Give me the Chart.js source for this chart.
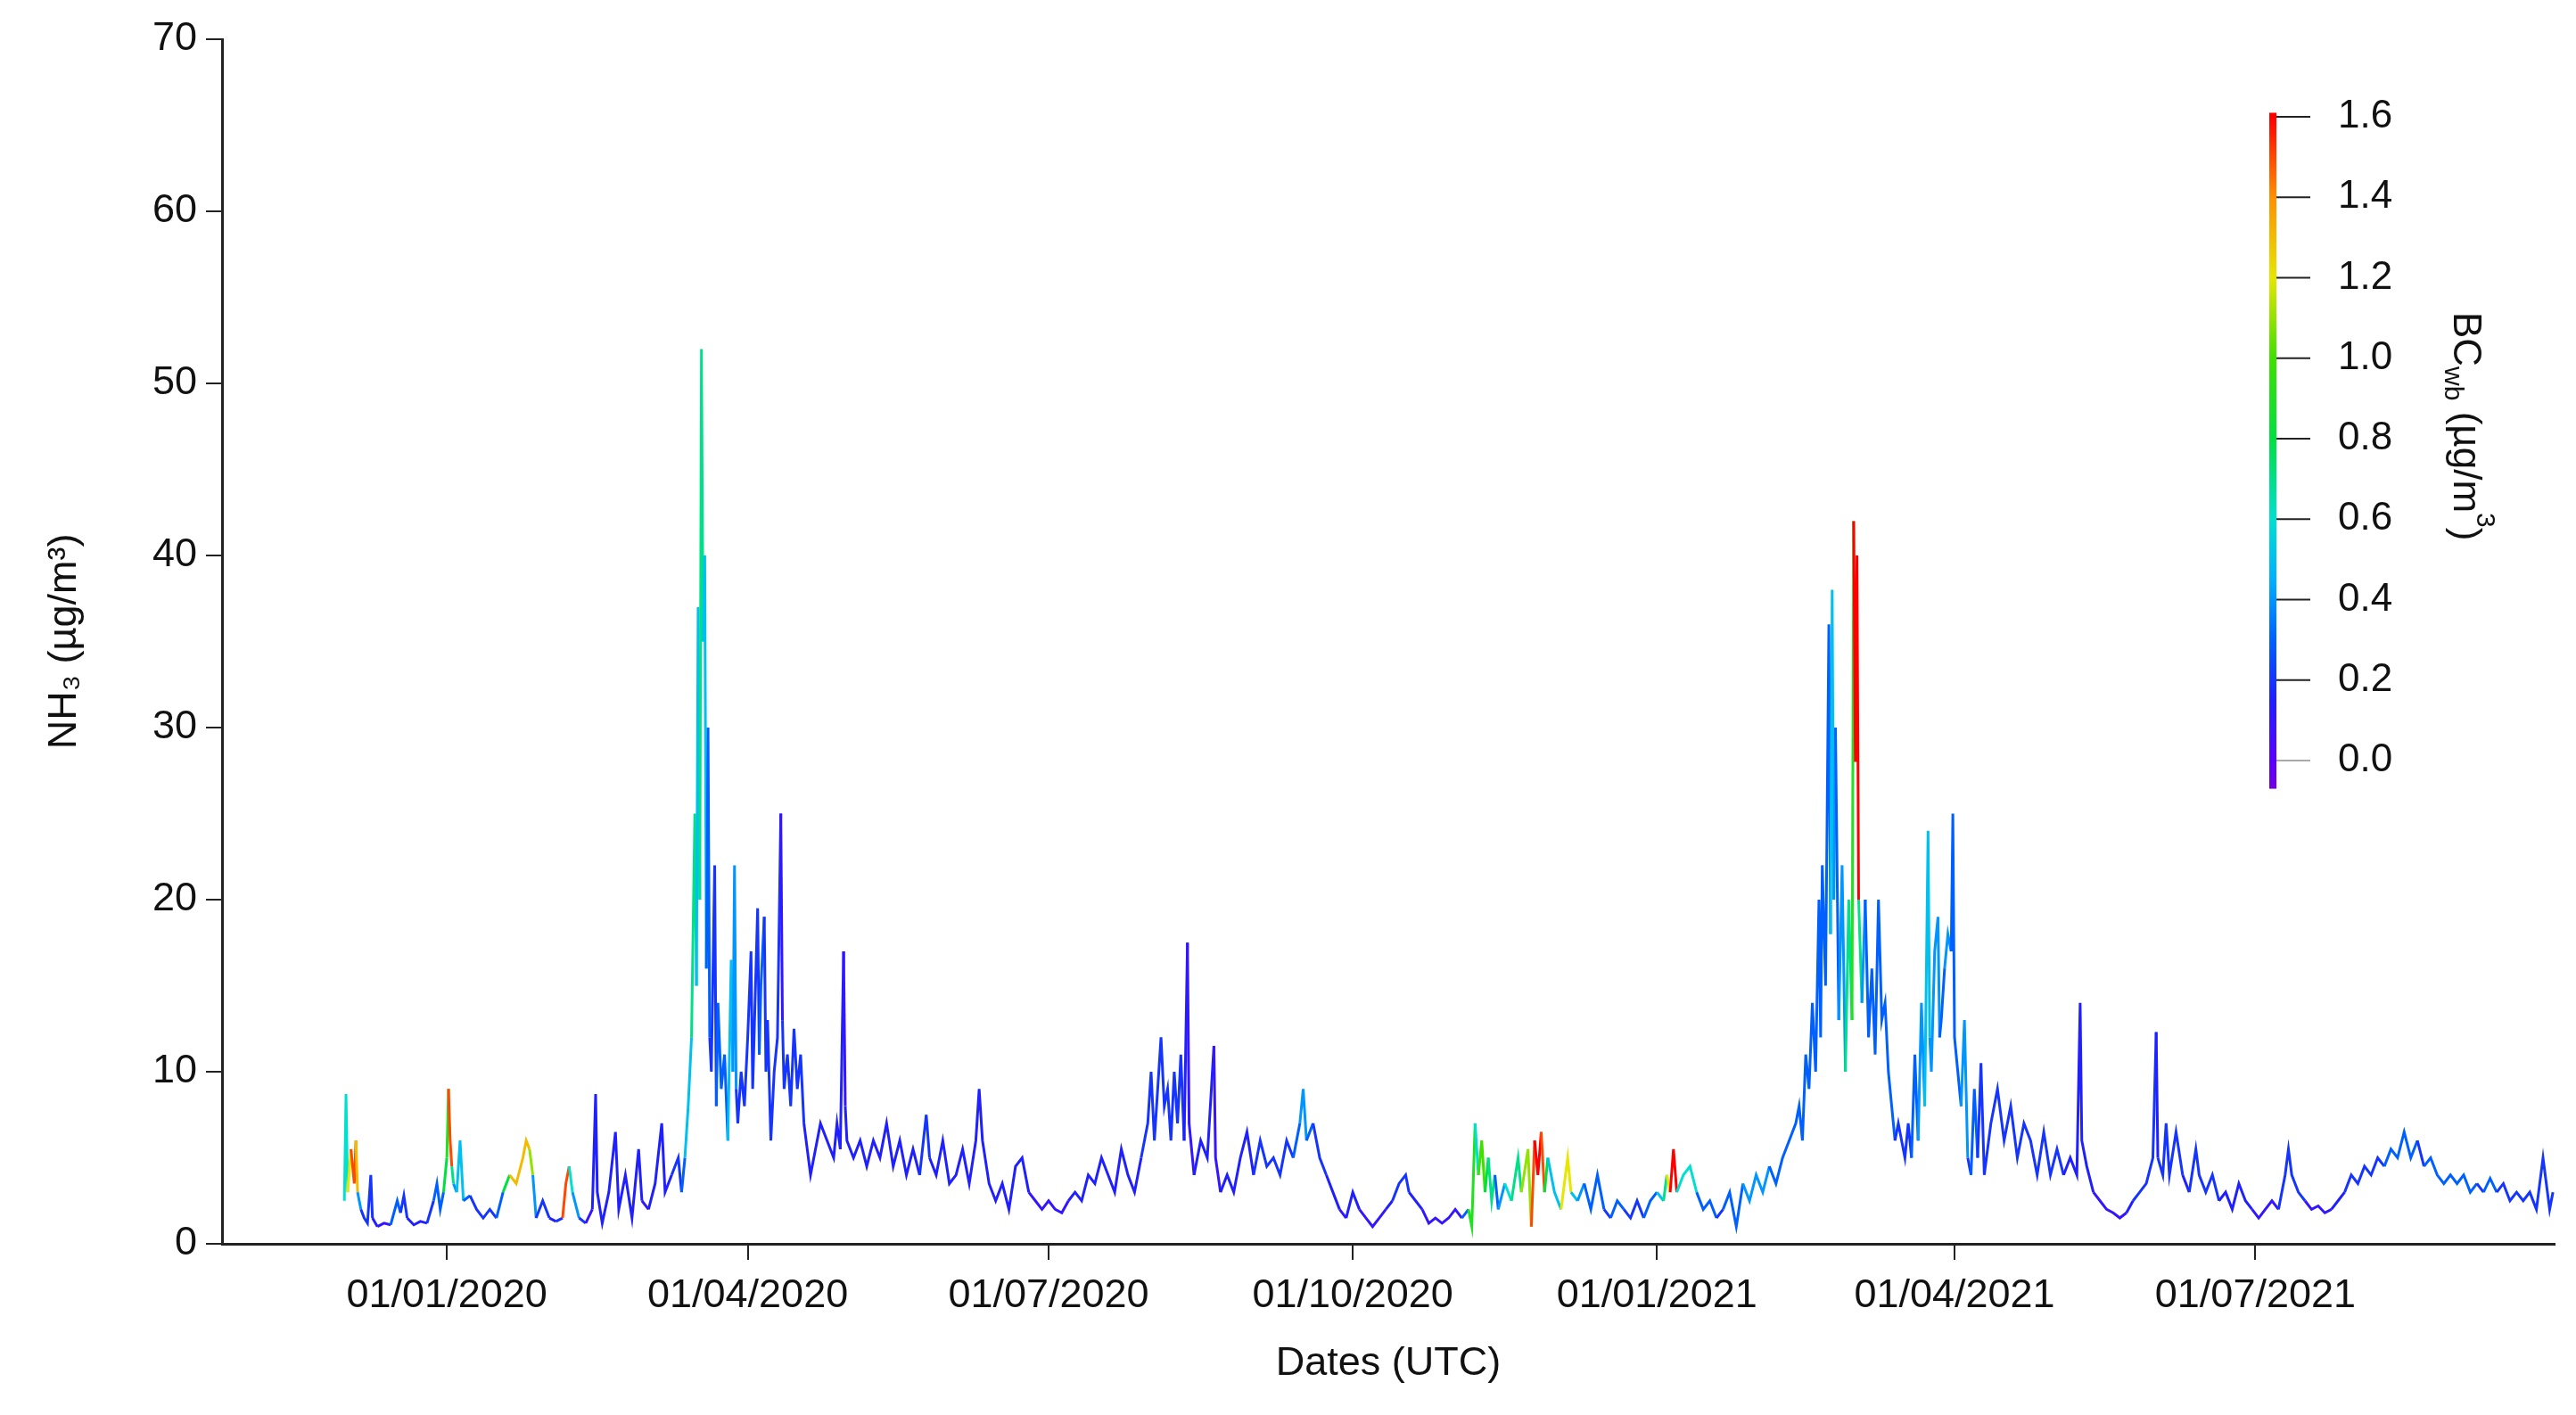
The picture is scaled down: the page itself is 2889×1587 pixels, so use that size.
<!DOCTYPE html>
<html>
<head>
<meta charset="utf-8">
<script src="https://cdn.jsdelivr.net/npm/chart.js@4"></script>
<style>
  html, body { margin: 0; padding: 0; background: #fff; }
</style>
</head>
<body>
<canvas id="nh3Chart" width="2889" height="1587"></canvas>
<script>
// days since 01/01/2020, NH3 (µg/m3), BCwb (µg/m3)
const days = [
  -31,-30.5,-30,-29,-28,-27.5,-27,-26,-25,-24,-23,-22.5,-21,-19,-17,-15,-14,-13,-12,-10,-8,-6,-4,-3,-2,-1,
  0,0.5,1,1.5,2,3,4,5,7,9,11,13,15,17,19,21,23,24,25,26,27,29,31,33,35,36,37,38,40,42,44,45,45.5,47,49,51,52,54,56,58,59,61,63,65,66,68,70,71,72,73,
  74,75,75.5,76,76.5,77,77.5,78,78.5,79,79.5,80,81,81.5,82,83,84,85,86,86.5,87,87.5,88,89,90,91,92,92.5,94,94.5,95,96,96.5,97,98,99,100,101,101.5,102,103,104,105,106,107,108,109,110,111,113,115,117,118,119,120,120.5,121,123,125,127,129,131,133,135,137,139,141,143,145,146,148,150,152,154,156,158,160,161,162,
  164,166,168,170,172,174,176,178,180,182,184,186,188,190,192,194,196,198,200,202,204,206,208,210,212,213,214,216,217,218,219,220,221,222,223,224,224.5,226,228,230,232,232.5,234,236,238,240,242,244,246,248,250,252,254,256,258,259,260,262,264,266,268,270,272,274,276,278,280,282,284,286,288,290,291,293,295,297,299,301,303,305,307,
  309,310,311,312,313,314,315,316,317,318,320,322,324,325,327,328,329,330,331,332,333,335,337,339,340,342,344,346,348,350,352,354,356,358,360,362,364,366,368,369,370,371,372,374,376,378,380,382,384,386,388,390,392,394,396,398,400,402,404,406,408,409,410,
  411,412,413,414,415,415.5,416,417,418,418.5,419,419.5,420,421,422,423,424,425,425.5,426,426.5,427,428,429,430,431,432,433,434,435,436,437,438,439,441,442,443,444,445,446,447,448,448.5,449,450,451,451.5,452,453,454,455,455.5,456,457,458,459,460,461,462,463,464,465,467,469,471,473,475,477,479,481,483,485,487,489,491,493,494,494.5,496,498,
  500,502,504,506,508,510,512,514,516,517,517.5,519,520,521,523,525,527,529,530,532,534,536,538,540,542,544,546,548,550,552,554,556,557,558,560,562,564,566,568,570,572,574,576,578,580,582,584,586,588,590,592,594,596,598,600,602,604,606,608,610,612,614,616,618,620,622,624,626,628,630,632,634,636,637
];
const nh3 = [
  2.5,8.7,3,5.5,3.5,6,3,2,1.5,1.2,4,1.5,1,1.2,1.1,2.5,1.8,2.8,1.5,1.1,1.3,1.2,2.5,3.5,2,3,
  5,9,6,4.5,3.5,3,6,2.5,2.8,2,1.5,2,1.5,3,4,3.5,5,6,5.5,4,1.5,2.5,1.5,1.3,1.5,3.5,4.5,3,1.5,1.2,2,8.7,3,1.2,3,6.5,2,4,1.5,5.5,2.5,2,3.5,7,3,4,5,3,5,8,
  12,25,15,37,20,52,35,40,16,30,12,10,22,8,14,9,11,6,16.5,10,22,9,7,10,8,12,17,9,19.5,11,15,19,10,13,6,10,12,25,13,9,11,8,12.5,9,11,7,5.5,4,5,7,6,5,7,5.5,17,8,6,5,6,4.5,6,5,7,4.5,6,4,5.5,4,7.5,5,4,6,3.5,4,5.5,3.5,6,9,6,
  3.5,2.5,3.5,2,4.5,5,3,2.5,2,2.5,2,1.8,2.5,3,2.5,4,3.5,5,4,3,5.5,4,3,5,7,10,6,12,8,9,6,10,7,11,6,17.5,7,4,6,5,11.5,5,3,4,3,5,6.5,4,6,4.5,5,4,6,5,7,9,6,7,5,4,3,2,1.5,3,2,1.5,1,1.5,2,2.5,3.5,4,3,2.5,2,1.2,1.5,1.2,1.5,2,1.5,
  2,1,7,4,6,3,5,2.5,4,2,3.5,2.5,5,3,5.5,1,6,4,6.5,3,5,3,2,5,3,2.5,3.5,2,4,2,1.5,2.5,2,1.5,2.5,1.5,2.5,3,2.5,4,3,5.5,3,4,4.5,3,2,2.5,1.5,2,3,1,3.5,2.5,4,3,4.5,3.5,5,6,7,8,6,
  11,9,14,10,20,12,22,15,36,18,38,20,30,13,22,10,20,13,42,28,40,20,14,20,12,16,11,20,13,14,10,8,6,7,5,7,5,11,6,14,8,24,12,10,17,19,12,13,16,18,17,25,12,10,8,13,5,4,9,5,10.5,4,7,9,6,8,5,7,6,4,6.5,4,5.5,4,5,4,14,6,4.5,3,
  2.5,2,1.8,1.5,1.8,2.5,3,3.5,5,12.3,5,4,7,4,6.5,4,3,5.5,4,3,4,2.5,3,2,3.5,2.5,2,1.5,2,2.5,2,4,5.5,4,3,2.5,2,2.2,1.8,2,2.5,3,4,3.5,4.5,4,5,4.5,5.5,5,6.5,5,6,4.5,5,4,3.5,4,3.5,4,3,3.5,3,3.8,3,3.5,2.5,3,2.5,3,2,5,2,3
];
const bc = [
  .3,.6,.5,1.2,1.5,1.3,.4,.2,.2,.15,.2,.15,.1,.1,.1,.3,.2,.2,.15,.1,.15,.1,.2,.3,.2,.3,
  .8,.9,1.5,.7,.4,.3,.5,.3,.2,.2,.15,.2,.2,.3,.8,1.3,1,1.3,1.1,.4,.2,.2,.15,.15,.2,1.5,.6,.4,.2,.1,.1,.15,.15,.1,.15,.15,.15,.15,.1,.15,.1,.1,.15,.15,.15,.15,.2,.15,.3,.5,
  .4,.7,.5,.5,.4,.7,.5,.5,.3,.3,.2,.2,.2,.2,.3,.2,.3,.2,.5,.3,.4,.2,.2,.2,.2,.2,.2,.2,.2,.2,.3,.2,.2,.2,.15,.2,.2,.1,.1,.2,.2,.2,.2,.2,.2,.15,.15,.1,.15,.15,.15,.1,.15,.15,.1,.1,.15,.15,.15,.15,.15,.15,.15,.15,.15,.1,.15,.15,.2,.15,.15,.15,.1,.15,.15,.15,.15,.15,.15,
  .15,.1,.15,.1,.15,.15,.1,.1,.1,.1,.1,.1,.1,.15,.1,.15,.15,.15,.15,.1,.15,.15,.1,.15,.2,.2,.2,.2,.2,.2,.2,.2,.2,.2,.15,.1,.1,.1,.15,.15,.1,.1,.1,.15,.1,.15,.15,.15,.2,.15,.2,.15,.2,.2,.3,.4,.3,.2,.2,.15,.15,.1,.1,.15,.1,.1,.1,.1,.1,.15,.2,.2,.15,.15,.1,.1,.1,.1,.1,.1,.1,
  .3,.9,.5,.6,1,.8,.5,.7,.3,.3,.4,.6,.7,.5,1.1,.9,1.5,1.6,1.5,.8,.4,.5,.3,1.2,.5,.4,.3,.3,.3,.2,.2,.3,.2,.15,.2,.15,.3,.3,.5,.7,1.2,1.6,.6,.4,.6,.3,.2,.3,.2,.2,.3,.2,.3,.4,.4,.4,.3,.3,.3,.3,.3,.3,.3,
  .3,.3,.3,.3,.3,.3,.3,.3,.3,.3,.5,.4,.3,.3,.4,.3,.7,.4,.9,1.6,1.6,.7,.4,.3,.3,.3,.3,.3,.3,.3,.3,.3,.2,.2,.2,.2,.2,.3,.2,.4,.3,.5,.4,.4,.4,.4,.3,.3,.3,.4,.3,.15,.3,.3,.2,.4,.2,.2,.3,.2,.2,.2,.2,.2,.2,.2,.2,.2,.2,.2,.2,.2,.2,.15,.15,.15,.1,.15,.15,.1,
  .1,.1,.1,.1,.1,.15,.2,.2,.2,.1,.15,.2,.2,.15,.2,.15,.15,.2,.2,.15,.2,.15,.15,.1,.15,.15,.1,.1,.1,.1,.1,.2,.2,.2,.2,.1,.1,.1,.1,.1,.15,.15,.2,.15,.2,.2,.2,.2,.3,.3,.2,.3,.2,.2,.3,.3,.2,.3,.3,.2,.3,.2,.2,.3,.2,.2,.2,.2,.2,.2,.2,.15,.2,.2
];
const tickDays = [0, 91, 182, 274, 366, 456, 547];
const tickLabels = ["01/01/2020", "01/04/2020", "01/07/2020", "01/10/2020", "01/01/2021", "01/04/2021", "01/07/2021"];
const bcTicks = [0, 0.2, 0.4, 0.6, 0.8, 1.0, 1.2, 1.4, 1.6];

const colorStops = [
  [-0.1, [127, 0, 212]], [0, [90, 0, 255]], [0.15, [32, 32, 255]], [0.3, [0, 96, 255]],
  [0.45, [0, 176, 255]], [0.6, [0, 224, 208]], [0.8, [0, 224, 64]], [1.0, [64, 224, 0]],
  [1.2, [230, 230, 0]], [1.4, [255, 144, 0]], [1.6, [255, 0, 0]]
];
function bcColor(v) {
  if (v <= colorStops[0][0]) return "rgb(" + colorStops[0][1].join(",") + ")";
  for (let i = 1; i < colorStops.length; i++) {
    const [v1, c1] = colorStops[i];
    const [v0, c0] = colorStops[i - 1];
    if (v <= v1) {
      const t = (v - v0) / (v1 - v0);
      return "rgb(" + c0.map((c, k) => Math.round(c + (c1[k] - c) * t)).join(",") + ")";
    }
  }
  return "rgb(255,0,0)";
}

const font = "Arial, 'Liberation Sans', sans-serif";

// colour bar + its label
const colorBarPlugin = {
  id: "colorBar",
  afterDraw(chart) {
    const ctx = chart.ctx;
    const x0 = 2545, w = 8;
    const yOf = v => 853 - (v / 1.6) * (853 - 131);
    const top = yOf(1.61), bottom = yOf(-0.07);
    const grad = ctx.createLinearGradient(0, bottom, 0, top);
    colorStops.forEach(([v, c]) => {
      const t = (v - (-0.07)) / (1.61 + 0.07);
      if (t >= 0 && t <= 1) grad.addColorStop(t, "rgb(" + c.join(",") + ")");
    });
    grad.addColorStop(0, bcColor(-0.07));
    grad.addColorStop(1, bcColor(1.61));
    ctx.save();
    ctx.fillStyle = grad;
    ctx.fillRect(x0, top, w, bottom - top);
    ctx.lineWidth = 2;
    ctx.fillStyle = "#111";
    ctx.font = "44px " + font;
    ctx.textAlign = "left";
    ctx.textBaseline = "middle";
    bcTicks.forEach(v => {
      const y = yOf(v);
      ctx.strokeStyle = v === 0 ? "#aaa" : "#222";
      ctx.beginPath();
      ctx.moveTo(x0 + w, y);
      ctx.lineTo(x0 + w + 38, y);
      ctx.stroke();
      ctx.fillText(v.toFixed(1), 2622, y);
    });
    // rotated BCwb label
    ctx.translate(2752, 350);
    ctx.rotate(Math.PI / 2);
    ctx.textBaseline = "alphabetic";
    let x = 0;
    ctx.font = "44px " + font;
    ctx.fillText("BC", x, 0); x += ctx.measureText("BC").width;
    ctx.font = "30px " + font;
    ctx.fillText("wb", x, 10); x += ctx.measureText("wb").width;
    ctx.font = "44px " + font;
    ctx.fillText(" (µg/m", x, 0); x += ctx.measureText(" (µg/m").width;
    ctx.font = "30px " + font;
    ctx.fillText("3", x, -26); x += ctx.measureText("3").width;
    ctx.font = "44px " + font;
    ctx.fillText(")", x, 0);
    ctx.restore();
  }
};

const points = days.map((d, i) => ({ x: d, y: nh3[i] }));

new Chart(document.getElementById("nh3Chart").getContext("2d"), {
  type: "line",
  data: {
    datasets: [{
      data: points,
      borderWidth: 3,
      pointRadius: 0,
      tension: 0,
      borderColor: "#2020ff",
      segment: {
        borderColor: c => bcColor(Math.max(bc[c.p0DataIndex], bc[c.p1DataIndex]))
      }
    }]
  },
  options: {
    responsive: false,
    animation: false,
    devicePixelRatio: 1,
    layout: { padding: { top: 44, right: 24, left: 42, bottom: 0 } },
    plugins: { legend: { display: false }, tooltip: { enabled: false } },
    scales: {
      x: {
        type: "linear",
        min: -68,
        max: 637.5,
        afterBuildTicks: s => { s.ticks = tickDays.map(v => ({ value: v })); },
        afterFit: s => { s.height = 192; },
        ticks: {
          autoSkip: false,
          maxRotation: 0,
          padding: 14,
          color: "#111",
          font: { size: 45, family: font },
          callback: v => tickLabels[tickDays.indexOf(v)]
        },
        grid: { drawOnChartArea: false, drawTicks: true, tickLength: 18, color: "#222", lineWidth: 2 },
        border: { color: "#222", width: 3 },
        title: { display: true, text: "Dates (UTC)", color: "#111", font: { size: 45, family: font }, padding: { top: 0, bottom: 30 } }
      },
      y: {
        min: 0,
        max: 70,
        afterFit: s => { s.width = 207; },
        ticks: { stepSize: 10, color: "#111", padding: 10, font: { size: 45, family: font } },
        grid: { drawOnChartArea: false, drawTicks: true, tickLength: 18, color: "#222", lineWidth: 2 },
        border: { color: "#222", width: 3 },
        title: { display: true, text: "NH₃ (µg/m³)", color: "#111", font: { size: 45, family: font }, padding: { bottom: 20 } }
      }
    }
  },
  plugins: [colorBarPlugin]
});
</script>
</body>
</html>
